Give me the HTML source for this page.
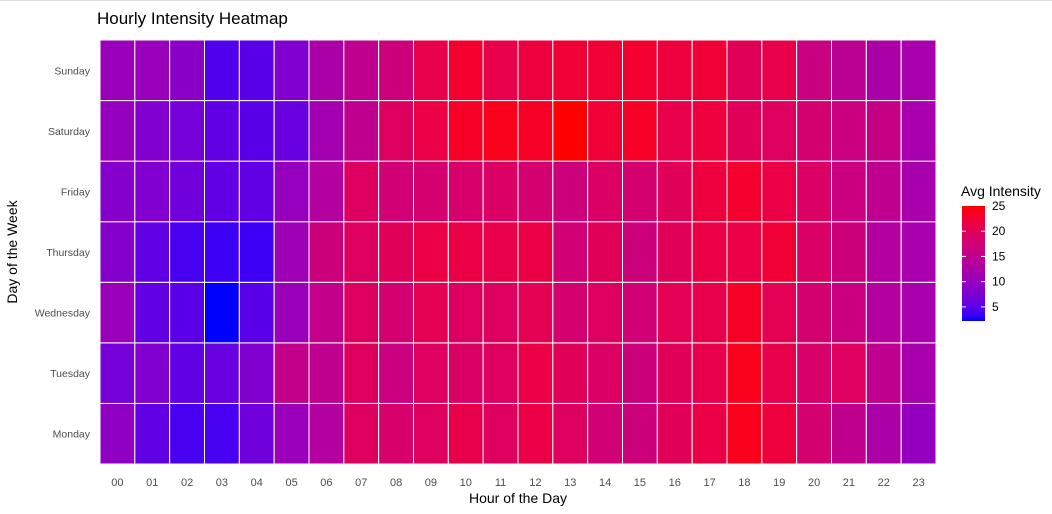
<!DOCTYPE html>
<html><head><meta charset="utf-8"><style>
body{margin:0;background:#fff;width:1052px;height:514px;overflow:hidden;font-family:"Liberation Sans",sans-serif}
</style></head><body>
<div style="position:absolute;left:0;top:0;width:1052px;height:1px;background:#ddd"></div>
<svg id="chart" width="1052" height="514" style="position:absolute;left:0;top:0"></svg>
<script>
const days = ["Monday","Tuesday","Wednesday","Thursday","Friday","Saturday","Sunday"];
const hours = ["00","01","02","03","04","05","06","07","08","09","10","11","12","13","14","15","16","17","18","19","20","21","22","23"];
const mondayVals = [9.5,5.5,4,4,6.5,10.5,13.5,19.5,18.5,19.5,21,19.5,21.5,19.5,17.5,17,20,21.5,24,22,18,15,12.5,10];
const tuesdayVals = [7,8,5.5,6,8,15.5,15,19.5,16.5,19.5,19,19.5,21.5,20,19,17,20,21,24,21,18.5,19.5,15,12];
const wednesdayVals = [10.5,5.5,5,2.2,5,10.5,15.5,19.5,18,20.5,19.5,19.5,20.5,18,19.5,17.5,20.5,21,23.5,20.5,18,16.5,13.5,12];
const thursdayVals = [8.5,5.5,4,3.5,3.5,11,17,19.5,20,21.5,21.5,21,21.5,17.5,20,17,20,21.5,21.5,22.5,19,17,13.5,12];
const fridayVals = [8.5,8,6.5,5.5,5.5,10,13.5,19.5,17.5,18,18.5,19,18,17,19,18,20,22,23,21.5,19,16.5,15,12];
const saturdayVals = [10,8,7,5.5,5,6,11.5,15,19.5,21.5,23.5,24,23.5,25,22.5,23.5,21,22,20,19.5,18,16.5,16,12];
const sundayVals = [10.5,10.5,9,4.5,5,8,12.5,15,17,21,23,21,22,22.5,22.5,23,22,22.5,20,21,16.5,14.5,12.5,12];
const legendTicks = [5,10,15,20,25];
const series = [mondayVals,tuesdayVals,wednesdayVals,thursdayVals,fridayVals,saturdayVals,sundayVals];

const NS="http://www.w3.org/2000/svg", svg=document.getElementById('chart');
const vmin=2.2, vmax=25;
const x0=100,x1=936,y0=40,y1=464;
const cw=(x1-x0)/hours.length, ch=(y1-y0)/days.length;
const xs=i=>x0+i*cw, ys=j=>y1-(j+1)*ch;
function color(v){let t=Math.max(0,Math.min(1,(v-vmin)/(vmax-vmin)));
 const r=Math.round(255*Math.sqrt(t)), b=Math.round(255*Math.pow(1-t,0.7));return `rgb(${r},0,${b})`;}
function el(tag,attrs,txt){const e=document.createElementNS(NS,tag);for(const k in attrs)e.setAttribute(k,attrs[k]);if(txt!==undefined)e.textContent=txt;svg.appendChild(e);return e;}

series.forEach((row,j)=>row.forEach((v,i)=>{
 const r=el('rect',{x:xs(i),y:ys(j),width:cw,height:ch,fill:color(v),stroke:'#fff','stroke-width':1});
 
 
}));
days.forEach((d,j)=>{const t=el('text',{x:90,y:ys(j)+ch/2+4,'text-anchor':'end','font-size':10.5,fill:'#4d4d4d'},d);
 
 });
hours.forEach((h,i)=>{const t=el('text',{x:xs(i)+cw/2,y:486,'text-anchor':'middle','font-size':11,fill:'#4d4d4d'},h);
 
 });
let t;
t=el('text',{x:97,y:24,'font-size':17,fill:'#000'},'Hourly Intensity Heatmap');


t=el('text',{x:518,y:503,'text-anchor':'middle','font-size':14,fill:'#000'},'Hour of the Day');


t=el('text',{x:0,y:0,'text-anchor':'middle','font-size':14,fill:'#000',transform:'translate(17,252) rotate(-90)'},'Day of the Week');


const defs=el('defs',{});
const g=document.createElementNS(NS,'linearGradient');g.setAttribute('id','lg');g.setAttribute('x1',0);g.setAttribute('y1',1);g.setAttribute('x2',0);g.setAttribute('y2',0);defs.appendChild(g);
for(let k=0;k<=20;k++){const s=document.createElementNS(NS,'stop');s.setAttribute('offset',k/20);s.setAttribute('stop-color',color(vmin+(vmax-vmin)*k/20));g.appendChild(s);}
const lx=962,lw=23,ly0=206,ly1=321;
const ly=v=>ly1-(v-vmin)/(vmax-vmin)*(ly1-ly0);
t=el('text',{x:961,y:196,'font-size':14,fill:'#000'},'Avg Intensity');


const bar=el('rect',{x:lx,y:ly0,width:lw,height:ly1-ly0,fill:'url(#lg)'});


legendTicks.forEach(v=>{
 if(v<25){el('line',{x1:lx,x2:lx+4,y1:ly(v),y2:ly(v),stroke:'#fff'});el('line',{x1:lx+lw-4,x2:lx+lw,y1:ly(v),y2:ly(v),stroke:'#fff'});}
 const tt=el('text',{x:992,y:ly(v)+4,'font-size':12,fill:'#000'},String(v));
 
 
});
</script>
</body></html>
